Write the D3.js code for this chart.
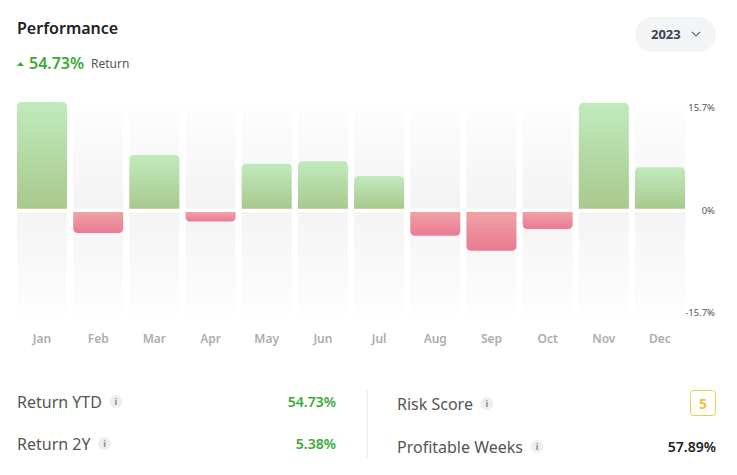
<!DOCTYPE html>
<html>
<head>
<meta charset="utf-8">
<script src="https://cdn.jsdelivr.net/npm/d3@7"></script>
<style>
  html, body { margin: 0; padding: 0; background: #fff; }
  svg text { font-family: "Noto Sans", "Open Sans", sans-serif; }
</style>
</head>
<body>
<div id="chart"></div>
<script>
// Monthly returns 2023 (%)
var months = ["Jan", "Feb", "Mar", "Apr", "May", "Jun", "Jul", "Aug", "Sep", "Oct", "Nov", "Dec"];
var returns = [15.7, -3.1, 7.9, -1.4, 6.6, 7.0, 4.8, -3.5, -5.7, -2.5, 15.6, 6.1];
var axisMax = 15.7;
var axisLabels = ["15.7%", "0%", "-15.7%"];

// Stats under the chart
var leftStats = [
    {label: "Return YTD", value: "54.73%"},
    {label: "Return 2Y", value: "5.38%"}
];
var rightStats = [
    {label: "Risk Score", value: "5"},
    {label: "Profitable Weeks", value: "57.89%"}
];

var width = 737, height = 475;
var zeroTop = 208.7, zeroBottom = 212, half = 106.7;

var svg = d3.select("#chart").append("svg")
    .attr("width", width)
    .attr("height", height);

var defs = svg.append("defs");

function gradient(id, stops) {
    var g = defs.append("linearGradient")
        .attr("id", id)
        .attr("x1", 0).attr("y1", 0).attr("x2", 0).attr("y2", 1);
    stops.forEach(function (s) {
        g.append("stop").attr("offset", s[0]).attr("stop-color", s[1]);
    });
}
gradient("gPos", [[0, "#c1eabd"], [1, "#a8c98d"]]);
gradient("gNeg", [[0, "#f0a2a6"], [1, "#e97a92"]]);
gradient("bgTop", [[0, "#ffffff"], [0.15, "#fcfcfc"], [1, "#f3f3f3"]]);
gradient("bgBottom", [[0, "#f4f4f4"], [0.85, "#fcfcfc"], [1, "#ffffff"]]);

// Header
svg.append("text")
    .attr("x", 17).attr("y", 34)
    .attr("font-size", 16).attr("font-weight", 600)
    .attr("fill", "#222")
    .text("Performance");

svg.append("path")
    .attr("d", "M17,66 L20.5,62 L24,66 Z")
    .attr("fill", "#3aaa35");
svg.append("text")
    .attr("x", 29).attr("y", 69)
    .attr("font-size", 16).attr("font-weight", 600)
    .attr("fill", "#3aaa35")
    .text("54.73%");
svg.append("text")
    .attr("x", 91).attr("y", 68)
    .attr("font-size", 12)
    .attr("fill", "#555")
    .text("Return");

// Year dropdown
svg.append("rect")
    .attr("x", 635).attr("y", 17)
    .attr("width", 81).attr("height", 35)
    .attr("rx", 17.5)
    .attr("fill", "#f3f4f6");
svg.append("text")
    .attr("x", 651).attr("y", 39)
    .attr("font-size", 13).attr("font-weight", 700)
    .attr("fill", "#3c4356")
    .text("2023");
svg.append("path")
    .attr("d", "M692,32 L696,36 L700,32")
    .attr("fill", "none")
    .attr("stroke", "#6b7080")
    .attr("stroke-width", 1.2);

// Scales
var x = d3.scaleBand()
    .domain(months)
    .range([17, 685])
    .paddingInner(0.11)
    .paddingOuter(0);

var yUp = d3.scaleLinear().domain([0, axisMax]).range([zeroTop, zeroTop - half]);
var yDown = d3.scaleLinear().domain([0, -axisMax]).range([zeroBottom, zeroBottom + half]);

// Background columns
var cols = svg.append("g").selectAll("g")
    .data(months)
    .enter().append("g");

cols.append("rect")
    .attr("x", function (d) { return x(d); })
    .attr("y", yUp(axisMax))
    .attr("width", x.bandwidth())
    .attr("height", zeroTop - yUp(axisMax))
    .attr("fill", "url(#bgTop)");

cols.append("rect")
    .attr("x", function (d) { return x(d); })
    .attr("y", zeroBottom)
    .attr("width", x.bandwidth())
    .attr("height", yDown(-axisMax) - zeroBottom)
    .attr("fill", "url(#bgBottom)");

// Bars with rounded outer corners
var r = 5;
function barPath(d, i) {
    var x0 = x(months[i]), x1 = x0 + x.bandwidth();
    if (d >= 0) {
        var y0 = zeroTop, y1 = yUp(d);
        var rr = Math.min(r, y0 - y1);
        return "M" + x0 + "," + y0 +
            "V" + (y1 + rr) +
            "Q" + x0 + "," + y1 + " " + (x0 + rr) + "," + y1 +
            "H" + (x1 - rr) +
            "Q" + x1 + "," + y1 + " " + x1 + "," + (y1 + rr) +
            "V" + y0 + "Z";
    } else {
        var y0n = zeroBottom, y1n = yDown(d);
        var rn = Math.min(r, y1n - y0n);
        return "M" + x0 + "," + y0n +
            "V" + (y1n - rn) +
            "Q" + x0 + "," + y1n + " " + (x0 + rn) + "," + y1n +
            "H" + (x1 - rn) +
            "Q" + x1 + "," + y1n + " " + x1 + "," + (y1n - rn) +
            "V" + y0n + "Z";
    }
}

svg.append("g").selectAll("path")
    .data(returns)
    .enter().append("path")
    .attr("d", barPath)
    .attr("fill", function (d) { return d >= 0 ? "url(#gPos)" : "url(#gNeg)"; });

// Month labels
svg.append("g").selectAll("text")
    .data(months)
    .enter().append("text")
    .attr("x", function (d) { return x(d) + x.bandwidth() / 2; })
    .attr("y", 343)
    .attr("text-anchor", "middle")
    .attr("font-size", 12).attr("font-weight", 600)
    .attr("fill", "#adadad")
    .text(function (d) { return d; });

// Right axis labels
var axisY = [yUp(axisMax) + 6, (zeroTop + zeroBottom) / 2, yDown(-axisMax) - 6];
svg.append("g").selectAll("text")
    .data(axisLabels)
    .enter().append("text")
    .attr("x", 715)
    .attr("y", function (d, i) { return axisY[i]; })
    .attr("dy", "0.35em")
    .attr("text-anchor", "end")
    .attr("font-size", 9.5)
    .attr("fill", "#555")
    .text(function (d) { return d; });

// Stats
function infoIcon(cx, cy) {
    svg.append("circle").attr("cx", cx).attr("cy", cy).attr("r", 6.5).attr("fill", "#eeeeef");
    svg.append("text").attr("x", cx).attr("y", cy + 3.5)
        .attr("text-anchor", "middle")
        .attr("font-size", 9).attr("font-weight", 700)
        .attr("fill", "#888")
        .text("i");
}

var statY = [402, 444];
leftStats.forEach(function (s, i) {
    var t = svg.append("text")
        .attr("x", 17).attr("y", statY[i] + 6)
        .attr("font-size", 16)
        .attr("fill", "#555")
        .text(s.label);
    var w = t.node().getComputedTextLength();
    infoIcon(17 + w + 14, statY[i] - 0.5);
    svg.append("text")
        .attr("x", 336).attr("y", statY[i] + 5)
        .attr("text-anchor", "end")
        .attr("font-size", 14).attr("font-weight", 600)
        .attr("fill", "#3aaa35")
        .text(s.value);
});

svg.append("line")
    .attr("x1", 367).attr("x2", 367)
    .attr("y1", 390).attr("y2", 458)
    .attr("stroke", "#e6e6e6");

var rStatY = [404, 447];
rightStats.forEach(function (s, i) {
    var t = svg.append("text")
        .attr("x", 397).attr("y", rStatY[i] + 6)
        .attr("font-size", 16)
        .attr("fill", "#555")
        .text(s.label);
    var w = t.node().getComputedTextLength();
    infoIcon(397 + w + 14, rStatY[i] - 0.5);
    if (i === 0) {
        svg.append("rect")
            .attr("x", 690.5).attr("y", 390.5)
            .attr("width", 25).attr("height", 25)
            .attr("rx", 3)
            .attr("fill", "#fff")
            .attr("stroke", "#ebcf4a");
        svg.append("text")
            .attr("x", 703).attr("y", rStatY[i] + 5)
            .attr("text-anchor", "middle")
            .attr("font-size", 14).attr("font-weight", 700)
            .attr("fill", "#e8c53a")
            .text(s.value);
    } else {
        svg.append("text")
            .attr("x", 716).attr("y", rStatY[i] + 5)
            .attr("text-anchor", "end")
            .attr("font-size", 14).attr("font-weight", 600)
            .attr("fill", "#222")
            .text(s.value);
    }
});
</script>
</body>
</html>
